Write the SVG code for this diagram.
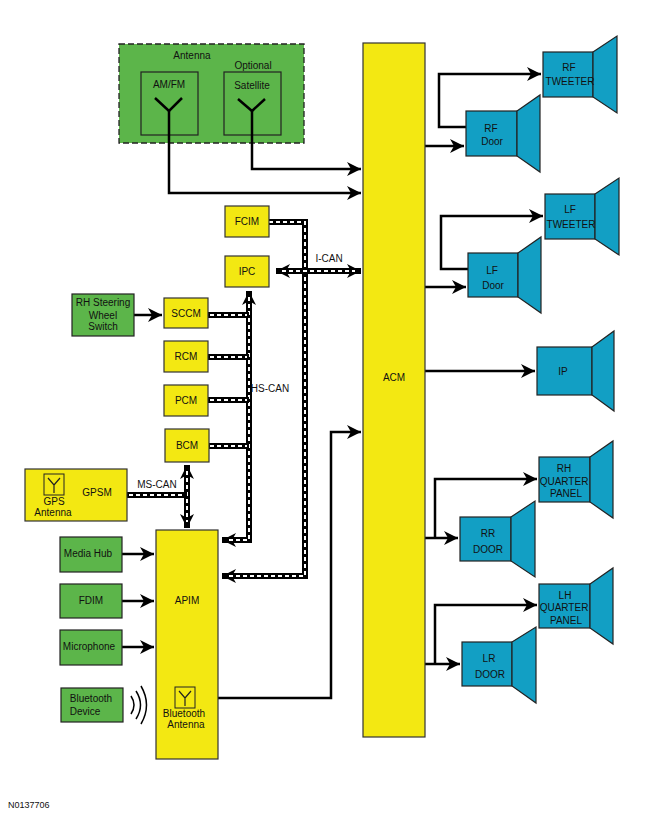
<svg xmlns="http://www.w3.org/2000/svg" width="650" height="820" viewBox="0 0 650 820">
<style>
text{font-family:"Liberation Sans",Arial,sans-serif;font-size:10px;fill:#111;text-anchor:middle}
.y{fill:#f3e812;stroke:#333;stroke-width:1.2}
.g{fill:#5cb54a;stroke:#222;stroke-width:1.2}
.b{fill:#129fc4;stroke:#222;stroke-width:1.2}
.ln{fill:none;stroke:#000;stroke-width:2.5}
.bus{fill:none;stroke:#000;stroke-width:6}
.busw{fill:none;stroke:#fff;stroke-width:2;stroke-dasharray:4 3}
.ant{fill:none;stroke:#000;stroke-width:2.5}
</style>
<defs>
<marker id="ah" markerUnits="userSpaceOnUse" markerWidth="16" markerHeight="14" refX="14" refY="7" orient="auto-start-reverse">
<path d="M0,0 L14,7 L0,14 L4,7 Z" fill="#000"/>
</marker>
</defs>
<g id="antenna">
<rect x="119" y="44" width="185" height="99" fill="#5cb54a" stroke="#222" stroke-width="1.3" stroke-dasharray="6 3"/>
<text x="192" y="59">Antenna</text>
<text x="253" y="69">Optional</text>
<rect x="141" y="72" width="57" height="63" fill="none" stroke="#222" stroke-width="1.2"/>
<text x="169" y="88">AM/FM</text>
<rect x="224" y="72" width="57" height="63" fill="none" stroke="#222" stroke-width="1.2"/>
<text x="252" y="89">Satellite</text>
<path class="ant" d="M155,98 L169,111 L182,98"/>
<path class="ant" d="M238,99 L252,111 L265,99"/>
</g>
<g id="connectors">
<path class="ln" d="M169,110 V193 H361" marker-end="url(#ah)"/>
<path class="ln" d="M252,110 V169 H361" marker-end="url(#ah)"/>
<path class="bus" d="M269,222 H305 V576 H222" marker-end="url(#ah)"/>
<path class="busw" d="M269,222 H305 V576 H226"/>
<path class="bus" d="M276,271 H361" marker-start="url(#ah)" marker-end="url(#ah)"/>
<path class="busw" d="M282,271 H355"/>
<path class="bus" d="M249,291 V540 H222" marker-start="url(#ah)" marker-end="url(#ah)"/>
<path class="busw" d="M249,297 V540 H226"/>
<path class="bus" d="M208,315 H249 M208,357 H249 M208,400 H249 M208,446 H249"/>
<path class="busw" d="M210,315 H247 M210,357 H247 M210,400 H247 M210,446 H247"/>
<path class="bus" d="M187,465 V528" marker-start="url(#ah)" marker-end="url(#ah)"/>
<path class="busw" d="M187,471 V522"/>
<path class="bus" d="M127,495 H187"/>
<path class="busw" d="M129,495 H185"/>
<path class="ln" d="M134,315 H162" marker-end="url(#ah)"/>
<path class="ln" d="M122,554 H154" marker-end="url(#ah)"/>
<path class="ln" d="M122,601 H154" marker-end="url(#ah)"/>
<path class="ln" d="M122,647 H154" marker-end="url(#ah)"/>
<path class="ln" d="M218,698 H331 V432 H361" marker-end="url(#ah)"/>
<path class="ln" d="M425,146 H464" marker-end="url(#ah)"/>
<path class="ln" d="M466,127 H439 V74 H541" marker-end="url(#ah)"/>
<path class="ln" d="M425,287 H466" marker-end="url(#ah)"/>
<path class="ln" d="M468,269 H441 V216 H543" marker-end="url(#ah)"/>
<path class="ln" d="M425,371 H535" marker-end="url(#ah)"/>
<path class="ln" d="M425,538 H458" marker-end="url(#ah)"/>
<path class="ln" d="M435,538 V479 H537" marker-end="url(#ah)"/>
<path class="ln" d="M425,664 H460" marker-end="url(#ah)"/>
<path class="ln" d="M435,664 V605 H537" marker-end="url(#ah)"/>
<path d="M131,696 Q137,705 131,714 M136,691 Q145,705 136,719 M141,686 Q152,705 141,724" fill="none" stroke="#000" stroke-width="1.5"/>
</g>
<text x="329" y="262">I-CAN</text>
<text x="270" y="392">HS-CAN</text>
<text x="157" y="488">MS-CAN</text>
<g id="acm"><rect class="y" x="363" y="43" width="62" height="694"/><text x="394" y="381">ACM</text></g>
<g id="fcim"><rect class="y" x="225" y="206" width="44" height="31"/><text x="247" y="225">FCIM</text></g>
<g id="ipc"><rect class="y" x="225" y="256" width="44" height="31"/><text x="247" y="275">IPC</text></g>
<g id="rhsw"><rect class="g" x="72" y="294" width="62" height="42"/><text x="103" y="306">RH Steering</text><text x="103" y="319">Wheel</text><text x="103" y="330">Switch</text></g>
<g id="sccm"><rect class="y" x="164" y="298" width="44" height="30"/><text x="186" y="317">SCCM</text></g>
<g id="rcm"><rect class="y" x="164" y="341" width="44" height="31"/><text x="186" y="360">RCM</text></g>
<g id="pcm"><rect class="y" x="164" y="385" width="44" height="31"/><text x="186" y="404">PCM</text></g>
<g id="bcm"><rect class="y" x="165" y="429" width="44" height="33"/><text x="187" y="449">BCM</text></g>
<g id="gpsm"><rect class="y" x="25" y="469" width="102" height="52"/>
<rect x="44" y="474" width="20" height="21" fill="none" stroke="#222" stroke-width="1"/>
<path d="M48,478 L54,485 L60,478 M54,485 V493" fill="none" stroke="#222" stroke-width="1.2"/>
<text x="97" y="496">GPSM</text><text x="54" y="505">GPS</text><text x="53" y="516">Antenna</text></g>
<g id="apim"><rect class="y" x="156" y="530" width="62" height="229"/><text x="187" y="604">APIM</text>
<rect x="175" y="687" width="20" height="21" fill="none" stroke="#222" stroke-width="1"/>
<path d="M179,691 L185,698 L191,691 M185,698 V706" fill="none" stroke="#222" stroke-width="1.2"/>
<text x="184" y="717">Bluetooth</text><text x="186" y="728">Antenna</text></g>
<g id="mediahub"><rect class="g" x="60" y="537" width="62" height="35"/><text x="88" y="557">Media Hub</text></g>
<g id="fdim"><rect class="g" x="60" y="584" width="62" height="34"/><text x="91" y="604">FDIM</text></g>
<g id="mic"><rect class="g" x="60" y="630" width="62" height="35"/><text x="89" y="650">Microphone</text></g>
<g id="btdev"><rect class="g" x="61" y="688" width="62" height="34"/><text x="91" y="702">Bluetooth</text><text x="85" y="715">Device</text></g>
<g id="rftw"><rect class="b" x="543" y="52" width="50" height="45"/><path class="b" d="M593,52 L617,36 V113 L593,97 Z"/><text x="569" y="71">RF</text><text x="570" y="85">TWEETER</text></g>
<g id="rfdoor"><rect class="b" x="466" y="111" width="51" height="45"/><path class="b" d="M517,111 L540,95 V172 L517,156 Z"/><text x="491" y="132">RF</text><text x="492" y="145">Door</text></g>
<g id="lftw"><rect class="b" x="545" y="194" width="50" height="45"/><path class="b" d="M595,194 L619,178 V255 L595,239 Z"/><text x="570" y="213">LF</text><text x="571" y="228">TWEETER</text></g>
<g id="lfdoor"><rect class="b" x="468" y="253" width="50" height="44"/><path class="b" d="M518,253 L541,237 V313 L518,297 Z"/><text x="492" y="274">LF</text><text x="493" y="289">Door</text></g>
<g id="ip"><rect class="b" x="537" y="347" width="55" height="48"/><path class="b" d="M592,347 L614,331 V411 L592,395 Z"/><text x="563" y="375">IP</text></g>
<g id="rhqp"><rect class="b" x="539" y="457" width="51" height="45"/><path class="b" d="M590,457 L613,441 V518 L590,502 Z"/><text x="564" y="472">RH</text><text x="564" y="485">QUARTER</text><text x="566" y="497">PANEL</text></g>
<g id="rrdoor"><rect class="b" x="460" y="517" width="51" height="44"/><path class="b" d="M511,517 L535,501 V577 L511,561 Z"/><text x="488" y="537">RR</text><text x="488" y="553">DOOR</text></g>
<g id="lhqp"><rect class="b" x="539" y="584" width="51" height="44"/><path class="b" d="M590,584 L613,568 V644 L590,628 Z"/><text x="565" y="599">LH</text><text x="564" y="611">QUARTER</text><text x="566" y="624">PANEL</text></g>
<g id="lrdoor"><rect class="b" x="462" y="642" width="50" height="44"/><path class="b" d="M512,642 L536,627 V703 L512,686 Z"/><text x="489" y="662">LR</text><text x="490" y="678">DOOR</text></g>
<text x="8" y="808" style="text-anchor:start;font-size:9px">N0137706</text>
</svg>
